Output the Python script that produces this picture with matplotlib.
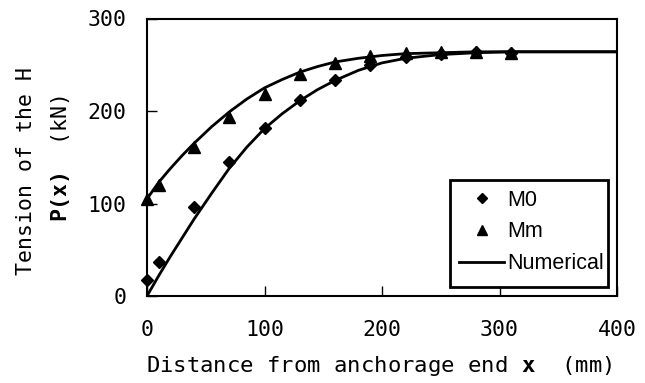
import matplotlib
matplotlib.use("Agg")
import matplotlib.pyplot as plt
from matplotlib.patches import Rectangle

# ---- data ----
x_pts = [0, 10, 40, 70, 100, 130, 160, 190, 220, 250, 280, 310]
m0_vals = [17, 37, 96, 145, 182, 212, 234, 250, 258, 262, 264, 263]
mm_vals = [105, 120, 161, 194, 218, 240, 252, 260, 263, 264, 264, 263]

x_line = [0, 5, 10, 20, 30, 40, 55, 70, 85, 100, 115, 130, 145, 160, 180, 200, 220, 250, 280, 310, 350, 400]
num_m0 = [0, 11, 22, 43, 63, 83, 111, 138, 161, 181, 197, 211, 223, 233, 244, 252, 257, 261, 263, 264, 264, 264]
num_mm = [105, 114, 123, 138, 152, 165, 183, 199, 213, 225, 234, 242, 248, 253, 257, 260, 262, 263, 264, 264, 264, 264]

x_ticks = [0, 100, 200, 300, 400]
y_ticks = [0, 100, 200, 300]

plt.rcParams['mathtext.fontset'] = 'custom'
plt.rcParams['mathtext.rm'] = 'DejaVu Sans Mono'
plt.rcParams['mathtext.bf'] = 'DejaVu Sans Mono:bold'

mono = 'DejaVu Sans Mono'
fs = 15.5

fig = plt.figure(figsize=(6.45, 3.83), dpi=100)
ax = fig.add_axes([147/645, 1-296/383, (617-147)/645, (296-18.5)/383])

ax.plot(x_line, num_m0, color='black', lw=2, label='_nolegend_')
ax.plot(x_line, num_mm, color='black', lw=2, label='Numerical')
ax.plot(x_pts, m0_vals, linestyle='none', marker='D', ms=6.5, color='black', label='M0', clip_on=False)
ax.plot(x_pts, mm_vals, linestyle='none', marker='^', ms=8.5, color='black', label='Mm', clip_on=False)

ax.set_xlim(0, 400)
ax.set_ylim(0, 300)
ax.set_xticks(x_ticks)
ax.set_yticks(y_ticks)
ax.tick_params(direction='in', length=7, width=1, top=False, right=False)
ax.tick_params(axis='x', pad=17)
ax.tick_params(axis='y', pad=15)
for lab in ax.get_xticklabels() + ax.get_yticklabels():
    lab.set_fontfamily(mono)
    lab.set_fontsize(fs)
for s in ax.spines.values():
    s.set_linewidth(1.5)

handles, labels = ax.get_legend_handles_labels()
order = [labels.index('M0'), labels.index('Mm'), labels.index('Numerical')]
leg = ax.legend([handles[i] for i in order], [labels[i] for i in order],
                loc='center', bbox_to_anchor=(0.818, 0.231),
                prop={'family': 'Liberation Sans', 'size': 15.5},
                frameon=False,
                handlelength=2.1, handletextpad=0.14, borderpad=0.0,
                labelspacing=0.5, borderaxespad=0.0, markerscale=0.8)
ax.add_patch(Rectangle((0.645, 0.032), 0.981-0.645, 0.418-0.032,
                       transform=ax.transAxes, fill=False, edgecolor='black',
                       linewidth=2, zorder=5))

fig.text(379/645, 1-366/383, r"Distance from anchorage end $\mathbf{x}$  (mm)",
         ha='center', va='center', fontfamily=mono, fontsize=16)
fig.text(26/645, 1-275/383, "Tension of the H", rotation=90,
         ha='center', va='bottom', fontfamily=mono, fontsize=fs)
fig.text(60/645, 1-222/383, r"$\mathbf{P(x)}$  (kN)", rotation=90,
         ha='center', va='bottom', fontfamily=mono, fontsize=fs)

fig.savefig('out.png', dpi=100)
